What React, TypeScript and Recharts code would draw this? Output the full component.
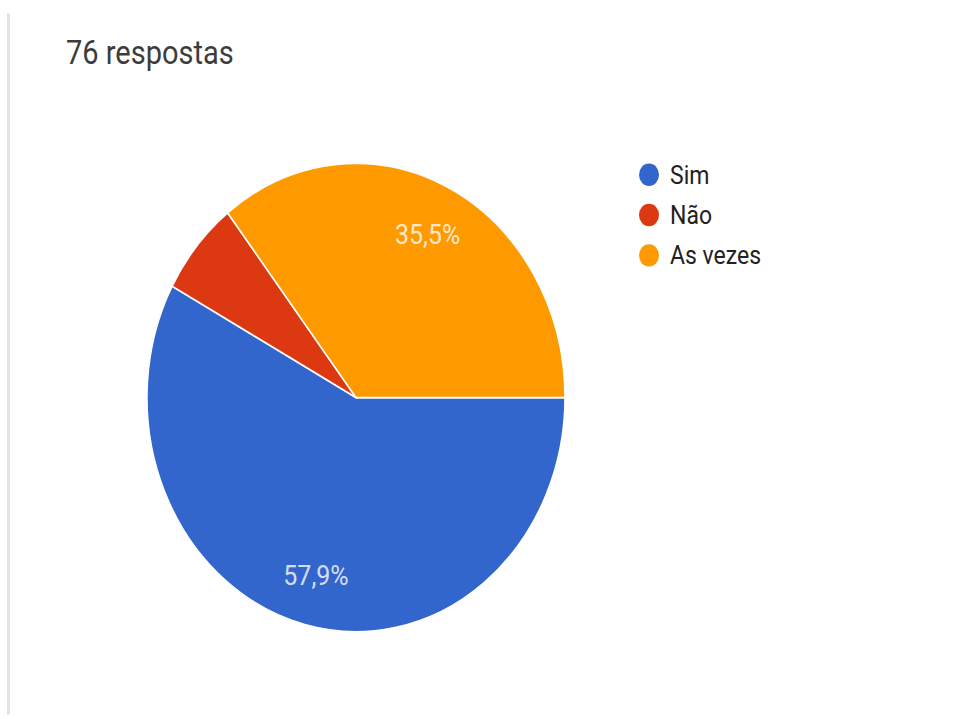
import { PieChart, Pie, Cell, Legend } from "recharts";

// answers for the single question, Google Forms style summary
const CATEGORIES = ["Sim", "Não", "As vezes"];
const COUNTS = [44, 5, 27];
const COLORS = ["#3366cc", "#dc3912", "#ff9900"];
const TITLE = "76 respostas";

// the screenshot is stretched vertically, so the whole card is scaled
const STRETCH = 1.12;
const W = 963;
const H = Math.round(719 / STRETCH);
const FONT = "Roboto, Arial, sans-serif";
const RADIAN = Math.PI / 180;

const data = CATEGORIES.map((name, i) => ({ name, value: COUNTS[i] }));

function renderLabel(props: any) {
  const { cx, cy, midAngle, outerRadius, percent } = props;
  if (percent < 0.1) return null; // small slices get no label
  const r = outerRadius * 0.78;
  const x = cx + r * Math.cos(-midAngle * RADIAN);
  const y = cy + r * Math.sin(-midAngle * RADIAN);
  return (
    <text
      x={x}
      y={y}
      fill="#fff"
      fillOpacity={0.8}
      textAnchor="middle"
      dominantBaseline="central"
      fontSize={25}
      fontFamily={FONT}
    >
      {(percent * 100).toFixed(1).replace(".", ",")}%
    </text>
  );
}

// keep the legend in data order (Sim, Não, As vezes)
function renderLegend() {
  return (
    <div style={{ fontFamily: FONT }}>
      {CATEGORIES.map((name, i) => (
        <div key={name} style={{ display: "flex", alignItems: "center", height: 36 }}>
          <span
            style={{
              width: 20,
              height: 20,
              borderRadius: "50%",
              background: COLORS[i],
              marginRight: 11,
              flex: "none",
            }}
          />
          <span style={{ fontSize: 23, color: "#222" }}>{name}</span>
        </div>
      ))}
    </div>
  );
}

export default function App() {
  return (
    <div style={{ position: "fixed", left: 0, top: 0, width: W, height: 719, background: "#fff", overflow: "hidden" }}>
      <div
        style={{
          position: "absolute",
          left: 0,
          top: 0,
          width: W,
          height: H,
          transform: `scaleY(${STRETCH})`,
          transformOrigin: "0 0",
        }}
      >
        <div style={{ position: "absolute", left: 7, top: 12, width: 3, height: 626, background: "#e3e3e3" }} />
        <div
          style={{
            position: "absolute",
            left: 66,
            top: 33,
            fontFamily: FONT,
            fontSize: 29,
            lineHeight: 1,
            color: "#3c3c3c",
            whiteSpace: "nowrap",
          }}
        >
          {TITLE}
        </div>
        <PieChart width={W} height={H} margin={{ top: 0, right: 0, bottom: 0, left: 0 }}>
          <Pie
            data={data}
            dataKey="value"
            nameKey="name"
            cx={356}
            cy={355}
            outerRadius={209}
            startAngle={0}
            endAngle={-360}
            stroke="#fff"
            strokeWidth={1.5}
            label={renderLabel}
            labelLine={false}
            isAnimationActive={false}
          >
            {data.map((d, i) => (
              <Cell key={d.name} fill={COLORS[i]} />
            ))}
          </Pie>
          <Legend
            layout="vertical"
            align="right"
            verticalAlign="top"
            content={renderLegend}
            wrapperStyle={{ left: 639, top: 138, width: 200, right: "auto" }}
          />
        </PieChart>
      </div>
    </div>
  );
}
